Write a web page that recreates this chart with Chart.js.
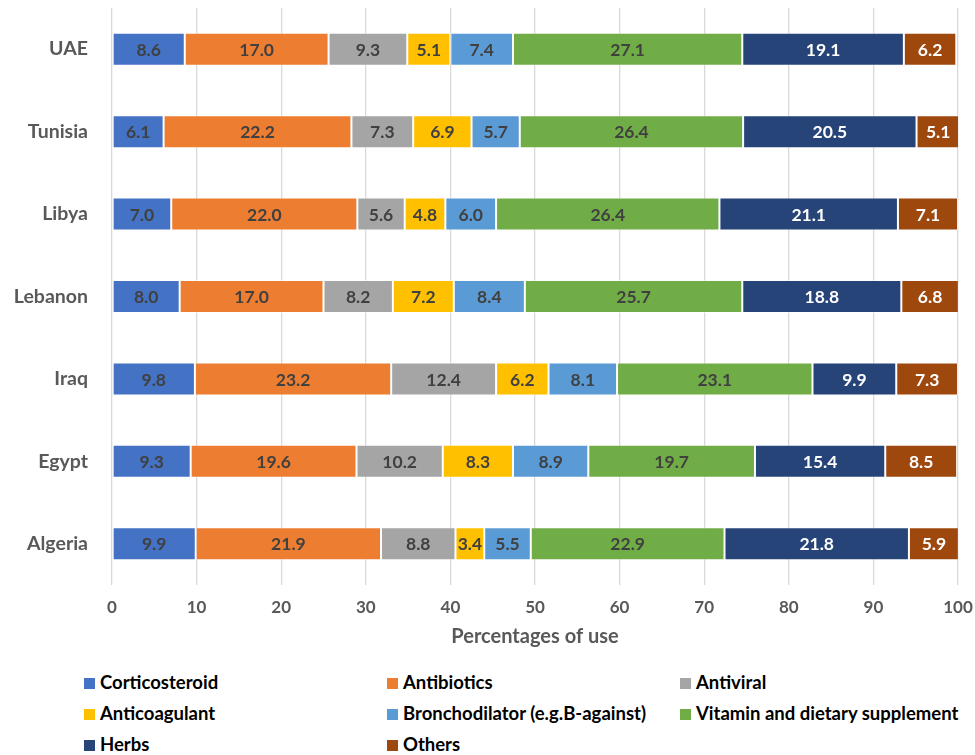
<!DOCTYPE html>
<html>
<head>
<meta charset="utf-8">
<script src="https://cdn.jsdelivr.net/npm/chart.js@4/dist/chart.umd.min.js"></script>
<style>
  html, body { margin: 0; padding: 0; background: #fff; }
  #wrap { position: relative; width: 975px; height: 755px; overflow: hidden; }
  #chartBox { position: absolute; left: 0; top: 0; width: 975px; height: 662px; }
  #legend { position: absolute; left: 0; top: 670px; width: 975px; font-family: Lato, sans-serif; font-weight: bold; font-size: 18.5px; color: #000; }
  .lg-item { position: absolute; height: 24px; line-height: 24px; white-space: nowrap; }
  .lg-box { display: inline-block; width: 11px; height: 11px; margin-right: 5px; vertical-align: 0px; }
</style>
</head>
<body>
<div id="wrap">
  <div id="chartBox"><canvas id="chart"></canvas></div>
  <div id="legend"></div>
</div>
<script>
// categories, top to bottom
const countries = ['UAE', 'Tunisia', 'Libya', 'Lebanon', 'Iraq', 'Egypt', 'Algeria'];

const seriesNames = ['Corticosteroid', 'Antibiotics', 'Antiviral', 'Anticoagulant',
    'Bronchodilator (e.g.B-against)', 'Vitamin and dietary supplement', 'Herbs', 'Others'];
const seriesColors = ['#4472C4', '#ED7D31', '#A5A5A5', '#FFC000', '#5B9BD5', '#70AD47', '#264478', '#9E480E'];
const labelColors = ['#404040', '#404040', '#404040', '#404040', '#404040', '#404040', '#ffffff', '#ffffff'];

// values per series, in country order
const corticosteroid = [8.6, 6.1, 7.0, 8.0, 9.8, 9.3, 9.9];
const antibiotics    = [17.0, 22.2, 22.0, 17.0, 23.2, 19.6, 21.9];
const antiviral      = [9.3, 7.3, 5.6, 8.2, 12.4, 10.2, 8.8];
const anticoagulant  = [5.1, 6.9, 4.8, 7.2, 6.2, 8.3, 3.4];
const bronchodilator = [7.4, 5.7, 6.0, 8.4, 8.1, 8.9, 5.5];
const vitamin        = [27.1, 26.4, 26.4, 25.7, 23.1, 19.7, 22.9];
const herbs          = [19.1, 20.5, 21.1, 18.8, 9.9, 15.4, 21.8];
const others         = [6.2, 5.1, 7.1, 6.8, 7.3, 8.5, 5.9];

const xTicks = [0, 10, 20, 30, 40, 50, 60, 70, 80, 90, 100];

const seriesValues = [corticosteroid, antibiotics, antiviral, anticoagulant, bronchodilator, vitamin, herbs, others];

const FONT = 'Lato, sans-serif';

// draw the value inside each bar segment
const barLabels = {
    id: 'barLabels',
    afterDatasetsDraw(chart) {
        const ctx = chart.ctx;
        ctx.save();
        ctx.font = 'bold 17.5px ' + FONT;
        ctx.textAlign = 'center';
        ctx.textBaseline = 'middle';
        chart.data.datasets.forEach((ds, i) => {
            const meta = chart.getDatasetMeta(i);
            meta.data.forEach((bar, j) => {
                const p = bar.getProps(['x', 'y', 'base'], true);
                ctx.fillStyle = labelColors[i];
                ctx.fillText(ds.data[j].toFixed(1), (p.x + p.base) / 2, p.y + 1);
            });
        });
        ctx.restore();
    }
};

new Chart(document.getElementById('chart'), {
    type: 'bar',
    data: {
        labels: countries,
        datasets: seriesNames.map((name, i) => ({
            label: name,
            data: seriesValues[i],
            backgroundColor: seriesColors[i],
            borderColor: 'rgba(255,255,255,0.5)',
            borderWidth: 1,
            borderSkipped: false,
            categoryPercentage: 1,
            barPercentage: 0.4
        }))
    },
    options: {
        indexAxis: 'y',
        responsive: true,
        maintainAspectRatio: false,
        animation: false,
        layout: { padding: { top: 8, right: 17, left: 0, bottom: 0 } },
        plugins: {
            legend: { display: false },
            tooltip: { enabled: false }
        },
        scales: {
            x: {
                stacked: true,
                min: 0,
                max: 100,
                afterBuildTicks: (scale) => { scale.ticks = xTicks.map(v => ({ value: v })); },
                grid: { color: '#D9D9D9', lineWidth: 1.3, drawTicks: false },
                border: { display: false },
                ticks: { color: '#595959', font: { family: FONT, size: 17, weight: 'bold' }, padding: 12 },
                title: {
                    display: true,
                    text: 'Percentages of use',
                    color: '#595959',
                    font: { family: FONT, size: 20, weight: 'bold' },
                    padding: { top: 8, bottom: 13 }
                },
                afterFit: (scale) => {
                    scale.height = 77;
                    scale.paddingLeft = 0;
                    scale.paddingRight = 0;
                }
            },
            y: {
                stacked: true,
                grid: { display: false },
                border: { display: false },
                ticks: { color: '#595959', font: { family: FONT, size: 19.5, weight: 'bold' }, padding: 16 },
                afterFit: (scale) => {
                    scale.width = 112;
                    scale.paddingTop = 0;
                    scale.paddingBottom = 0;
                }
            }
        }
    },
    plugins: [barLabels]
});

// legend in three columns under the chart
const legendCols = [84, 387, 680];
const legendEl = document.getElementById('legend');
seriesNames.forEach((name, i) => {
    const item = document.createElement('div');
    item.className = 'lg-item';
    item.style.left = legendCols[i % 3] + 'px';
    item.style.top = (Math.floor(i / 3) * 31) + 'px';
    item.innerHTML = '<span class="lg-box" style="background:' + seriesColors[i] + '"></span>' + name;
    legendEl.appendChild(item);
});
</script>
</body>
</html>
